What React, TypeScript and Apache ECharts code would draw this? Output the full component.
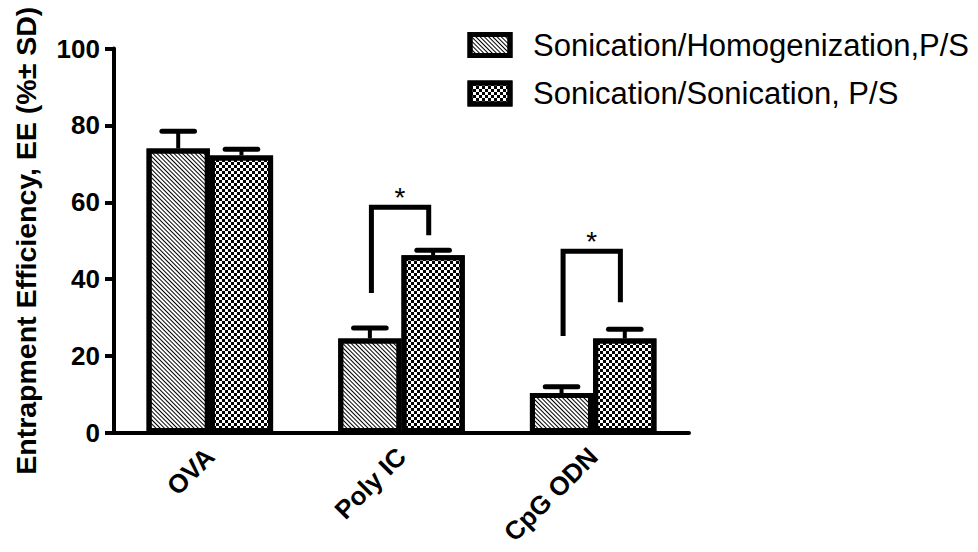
import React, { useEffect, useRef } from "react";
import * as echarts from "echarts";

// Formulations and their entrapment efficiency (mean and SD, %)
const categories = ["OVA", "Poly IC", "CpG ODN"];
const seriesNames = ["Sonication/Homogenization,P/S", "Sonication/Sonication, P/S"];
const homogenizationMean = [74.0, 24.6, 10.4];
const homogenizationSD = [4.5, 2.7, 1.6];
const sonicationMean = [72.2, 46.2, 24.6];
const sonicationSD = [1.6, 1.3, 2.4];

// Significance brackets: category index, left leg base, bracket top, right leg base
const bracketCategory = [1, 2];
const bracketLeftBase = [36.4, 25.2];
const bracketTop = [58.7, 47.3];
const bracketRightBase = [51.4, 34.0];
const bracketMark = ["*", "*"];

// Value axis
const yMin = 0;
const yMax = 100;
const yStep = 20;

const FONT = "'Liberation Sans', Arial, Helvetica, sans-serif";
const CATEGORY_GAP = 0.34;
const BAR_FRACTION = (1 - CATEGORY_GAP) / 2;

const hatchDecal = {
  symbol: "rect",
  symbolSize: 1,
  color: "#000",
  dashArrayX: [1, 0],
  dashArrayY: [1, 1.5],
  rotation: Math.PI / 4,
};

const checkerDecal = {
  symbol: "rect",
  symbolSize: 1,
  color: "#000",
  dashArrayX: [
    [2.6, 2.6],
    [0, 2.6, 2.6, 0],
  ],
  dashArrayY: [2.6, 0],
  rotation: 0,
};

function errorBarSeries(means: number[], sds: number[], side: number) {
  return {
    type: "custom",
    silent: true,
    z: 4,
    data: means.map((m, i) => [i, m, sds[i]]),
    encode: { x: 0, y: 1 },
    renderItem: (_params: any, api: any) => {
      const cat = api.value(0);
      const m = api.value(1);
      const sd = api.value(2);
      const band = api.size([1, 0])[0];
      const base = api.coord([cat, m]);
      const x = base[0] + (side * band * BAR_FRACTION) / 2;
      const yCap = api.coord([cat, m + sd])[1];
      const capHalf = band * 0.085;
      return {
        type: "group",
        children: [
          {
            type: "line",
            shape: { x1: x, y1: base[1], x2: x, y2: yCap },
            style: { stroke: "#000", lineWidth: 4 },
          },
          {
            type: "line",
            shape: { x1: x - capHalf, y1: yCap, x2: x + capHalf, y2: yCap },
            style: { stroke: "#000", lineWidth: 5, lineCap: "round" },
          },
        ],
      };
    },
  };
}

export default function App() {
  const ref = useRef<HTMLDivElement>(null);

  useEffect(() => {
    if (!ref.current) return;
    const chart = echarts.init(ref.current, null, { renderer: "svg" });

    const option = {
      animation: false,
      backgroundColor: "#fff",
      grid: { left: 114, right: 289, top: 48.5, bottom: 119, containLabel: false },
      legend: {
        orient: "vertical",
        left: 467.5,
        top: 29.5,
        padding: 0,
        itemGap: 17.5,
        itemWidth: 40,
        itemHeight: 21,
        icon: "rect",
        selectedMode: false,
        data: seriesNames,
        itemStyle: { borderWidth: 5, borderColor: "#000" },
        textStyle: {
          fontFamily: FONT,
          fontSize: 31,
          color: "#000",
          padding: [0, 0, 0, 18],
        },
      },
      xAxis: {
        type: "category",
        data: categories,
        boundaryGap: true,
        axisLine: { lineStyle: { color: "#000", width: 4 } },
        axisTick: { alignWithLabel: true, length: 11, lineStyle: { color: "#000", width: 4 } },
        axisLabel: {
          rotate: 45,
          interval: 0,
          margin: 19,
          fontFamily: FONT,
          fontWeight: "bold",
          fontSize: 26,
          color: "#000",
        },
        splitLine: { show: false },
      },
      yAxis: {
        type: "value",
        min: yMin,
        max: yMax,
        interval: yStep,
        name: "Entrapment Efficiency, EE (%± SD)",
        nameLocation: "middle",
        nameGap: 74,
        nameTextStyle: {
          fontFamily: FONT,
          fontWeight: "bold",
          fontSize: 28.5,
          color: "#000",
        },
        axisLine: { show: true, lineStyle: { color: "#000", width: 4 } },
        axisTick: { show: true, length: 9, lineStyle: { color: "#000", width: 4 } },
        axisLabel: {
          margin: 14,
          fontFamily: FONT,
          fontWeight: "bold",
          fontSize: 26,
          color: "#000",
        },
        splitLine: { show: false },
      },
      series: [
        {
          name: seriesNames[0],
          type: "bar",
          data: homogenizationMean,
          barGap: "0%",
          barCategoryGap: `${CATEGORY_GAP * 100}%`,
          z: 3,
          itemStyle: {
            color: "#fff",
            borderColor: "#000",
            borderWidth: 5,
            decal: hatchDecal,
          },
        },
        {
          name: seriesNames[1],
          type: "bar",
          data: sonicationMean,
          barGap: "0%",
          barCategoryGap: `${CATEGORY_GAP * 100}%`,
          z: 3,
          itemStyle: {
            color: "#fff",
            borderColor: "#000",
            borderWidth: 5,
            decal: checkerDecal,
          },
        },
        errorBarSeries(homogenizationMean, homogenizationSD, -1),
        errorBarSeries(sonicationMean, sonicationSD, 1),
        {
          type: "custom",
          silent: true,
          z: 5,
          data: bracketCategory.map((c, i) => [
            c,
            bracketLeftBase[i],
            bracketTop[i],
            bracketRightBase[i],
            i,
          ]),
          encode: { x: 0, y: 2 },
          renderItem: (_params: any, api: any) => {
            const cat = api.value(0);
            const band = api.size([1, 0])[0];
            const cx = api.coord([cat, 0])[0];
            const xL = cx - band * 0.157;
            const xR = cx + band * 0.142;
            const yLB = api.coord([cat, api.value(1)])[1];
            const yT = api.coord([cat, api.value(2)])[1];
            const yRB = api.coord([cat, api.value(3)])[1];
            const mark = bracketMark[api.value(4)];
            return {
              type: "group",
              children: [
                {
                  type: "polyline",
                  shape: {
                    points: [
                      [xL, yLB],
                      [xL, yT],
                      [xR, yT],
                      [xR, yRB],
                    ],
                  },
                  style: { stroke: "#000", lineWidth: 5, fill: "none", lineJoin: "miter" },
                },
                {
                  type: "text",
                  x: (xL + xR) / 2,
                  y: yT - 10,
                  style: {
                    text: mark,
                    fontFamily: FONT,
                    fontSize: 28,
                    fill: "#000",
                    align: "center",
                    verticalAlign: "middle",
                  },
                },
              ],
            };
          },
        },
      ],
    };

    chart.setOption(option as any);
    return () => chart.dispose();
  }, []);

  return <div ref={ref} style={{ width: 978, height: 552, margin: -8 }} />;
}
